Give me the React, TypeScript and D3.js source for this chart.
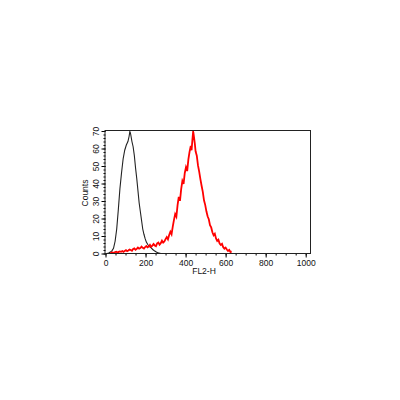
import React, { useEffect, useRef } from "react"
import * as d3 from "d3"

// FL2-H channel, counts - isotype control (black)
const controlChannels = [0, 8, 16, 24, 32, 40, 48, 56, 64, 72, 80, 88, 96, 104, 112, 118, 122, 126, 132, 138, 144, 150, 156, 162, 168, 174, 180, 186, 192, 198, 204, 212, 220, 228, 236, 244, 252, 260, 268, 276]
const controlCounts = [0, 0, 0.3, 0.8, 1.5, 3, 7, 14, 25, 37, 46, 54, 59, 62, 64, 67, 70, 68, 64, 61, 56, 49, 43, 36, 29, 24, 19, 14, 11, 8.5, 6.5, 5, 4, 3.2, 2.3, 1.6, 1, 0.5, 0.2, 0]

// stained sample (red)
const sampleChannels = [24, 30, 36, 42, 48, 54, 60, 66, 72, 78, 84, 90, 96, 102, 108, 114, 120, 126, 132, 138, 144, 150, 156, 162, 168, 174, 180, 186, 192, 198, 204, 210, 216, 222, 228, 234, 240, 246, 252, 258, 264, 270, 276, 282, 288, 294, 300, 306, 312, 318, 324, 330, 336, 342, 348, 354, 360, 366, 372, 378, 384, 390, 396, 402, 408, 414, 420, 426, 430, 434, 438, 442, 446, 450, 456, 462, 468, 474, 480, 486, 492, 498, 504, 510, 516, 522, 528, 534, 540, 546, 552, 558, 564, 570, 576, 582, 588, 594, 600, 606, 612, 618, 624, 630]
const sampleCounts = [0.2, 0.5, 0.6, 0.3, 0.8, 1.0, 0.5, 0.9, 1.2, 1.0, 1.4, 0.9, 1.5, 1.9, 1.3, 1.7, 2.3, 2.0, 1.6, 2.6, 2.9, 2.1, 2.6, 3.4, 2.8, 3.1, 3.9, 3.2, 2.8, 3.7, 4.3, 3.5, 4.0, 4.9, 3.8, 4.5, 5.4, 4.6, 4.2, 5.8, 6.3, 5.1, 5.9, 7.3, 6.2, 6.9, 8.2, 9.4, 8.1, 10.6, 12.4, 11.0, 15.3, 19.2, 22.5, 21.0, 27.6, 32.4, 30.1, 36.8, 41.5, 39.8, 46.0, 49.3, 47.1, 53.8, 58.2, 61.5, 59.0, 64.8, 70.0, 66.5, 63.0, 58.4, 55.9, 50.3, 46.8, 42.5, 38.7, 35.2, 30.4, 27.8, 24.1, 21.3, 19.6, 16.2, 14.9, 12.1, 10.4, 11.3, 8.6, 7.2, 7.9, 5.7, 4.9, 5.5, 3.6, 2.8, 3.4, 2.3, 1.5, 2.1, 0.8, 1.2, 0.4, 0]

const xTicks = [0, 200, 400, 600, 800, 1000]
const yTicks = [0, 10, 20, 30, 40, 50, 60, 70]

const App = () => {
  const ref = useRef<SVGSVGElement | null>(null)

  useEffect(() => {
    const svg = d3.select(ref.current)
    svg.selectAll("*").remove()

    const left = 105.5, right = 310.5, top = 131, bottom = 253.5

    const x = d3.scaleLinear().domain([0, 1024]).range([left, right])
    const y = d3.scaleLinear().domain([0, 70]).range([bottom, top])

    const font = "'Liberation Sans', Arial, sans-serif"

    // minor ticks
    svg.append("g")
      .attr("transform", `translate(0,${bottom})`)
      .call(d3.axisBottom(x).tickValues(d3.range(0, 1025, 50)).tickSize(2).tickFormat(() => "").tickSizeOuter(0))
      .call(g => g.select(".domain").remove())
    svg.append("g")
      .attr("transform", `translate(${left},0)`)
      .call(d3.axisLeft(y).tickValues(d3.range(0, 71, 2)).tickSize(2).tickFormat(() => "").tickSizeOuter(0))
      .call(g => g.select(".domain").remove())

    // major ticks + labels
    const xa = svg.append("g")
      .attr("transform", `translate(0,${bottom})`)
      .call(d3.axisBottom(x).tickValues(xTicks).tickSize(4).tickSizeOuter(0).tickFormat(d3.format("d")))
    xa.select(".domain").remove()
    xa.selectAll("text").attr("font-family", font).attr("font-size", 8.5).attr("y", 6).attr("fill", "#111")

    const ya = svg.append("g")
      .attr("transform", `translate(${left},0)`)
      .call(d3.axisLeft(y).tickValues(yTicks).tickSize(4).tickSizeOuter(0))
    ya.select(".domain").remove()
    ya.selectAll("text")
      .attr("font-family", font)
      .attr("font-size", 8.5)
      .attr("fill", "#111")
      .attr("text-anchor", "middle")
      .attr("x", null)
      .attr("transform", `translate(-9,0) rotate(-90)`)
      .attr("y", 0)
      .attr("dy", "0.32em")

    const line = d3.line<number>()
      .x((d) => x(d))
      .curve(d3.curveLinear)

    svg.append("path")
      .attr("d", line.y((d, i) => y(controlCounts[i]))(controlChannels))
      .attr("fill", "none")
      .attr("stroke", "#222")
      .attr("stroke-width", 1.1)

    svg.append("path")
      .attr("d", line.y((d, i) => y(sampleCounts[i]))(sampleChannels))
      .attr("fill", "none")
      .attr("stroke", "#f00")
      .attr("stroke-width", 1.8)

    // frame
    svg.append("rect")
      .attr("x", left - 0.5)
      .attr("y", top - 0.5)
      .attr("width", right - left + 0.5)
      .attr("height", bottom - top + 0.5)
      .attr("fill", "none")
      .attr("stroke", "#222")
      .attr("stroke-width", 1)

    svg.append("text")
      .attr("x", 204)
      .attr("y", 274)
      .attr("text-anchor", "middle")
      .attr("font-family", font)
      .attr("font-size", 8.5)
      .attr("fill", "#111")
      .text("FL2-H")

    svg.append("text")
      .attr("transform", `translate(88,193) rotate(-90)`)
      .attr("text-anchor", "middle")
      .attr("font-family", font)
      .attr("font-size", 8.5)
      .attr("fill", "#111")
      .text("Counts")
  }, [])

  return (
    <svg ref={ref} width={400} height={400} style={{ position: "absolute", left: 0, top: 0, background: "#fff" }}></svg>
  )
}

export default App
